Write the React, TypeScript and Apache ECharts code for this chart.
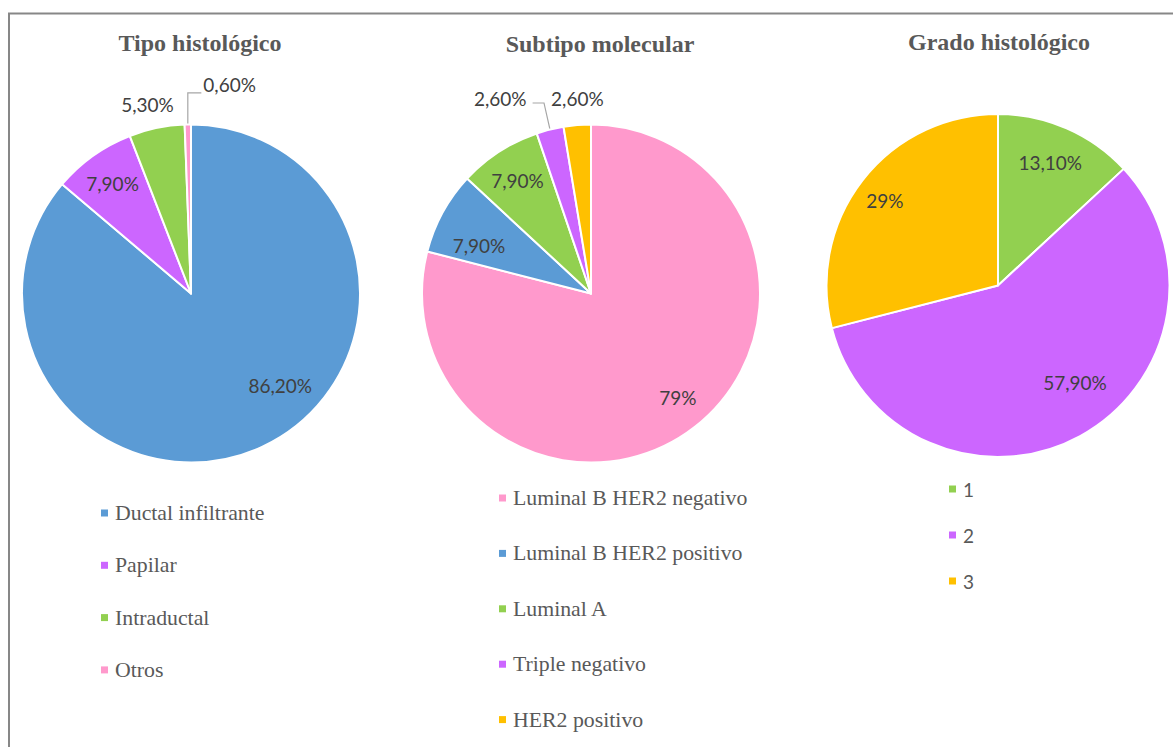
import React, { useEffect, useRef } from 'react';
import * as echarts from 'echarts';

// ---- data ----
const chartTitles = ['Tipo histológico', 'Subtipo molecular', 'Grado histológico'];

const tipoNames = ['Ductal infiltrante', 'Papilar', 'Intraductal', 'Otros'];
const tipoValues = [86.2, 7.9, 5.3, 0.6];

const subtipoNames = [
  'Luminal B HER2 negativo',
  'Luminal B HER2 positivo',
  'Luminal A',
  'Triple negativo',
  'HER2 positivo',
];
const subtipoValues = [79, 7.9, 7.9, 2.6, 2.6];

const gradoNames = ['1', '2', '3'];
const gradoValues = [13.1, 57.9, 29];

// ---- styles ----
const BLUE = '#5B9BD5';
const PURPLE = '#CC66FF';
const GREEN = '#92D050';
const PINK = '#FF99CC';
const YELLOW = '#FFC000';

const tipoColors = [BLUE, PURPLE, GREEN, PINK];
const subtipoColors = [PINK, BLUE, GREEN, PURPLE, YELLOW];
const gradoColors = [GREEN, PURPLE, YELLOW];

// label placement: angle (deg clockwise from 12 o'clock, null = slice middle), distance (fraction of radius)
const tipoLabelAngle = [136, null, 347, 10.5];
const tipoLabelDist = [0.76, 0.8, 1.146, 1.255];
const tipoLeader = [null, null, null, { dx: 0, dy: 8 }];

const subtipoLabelAngle = [140, 293, null, 335, 356];
const subtipoLabelDist = [0.8, 0.72, 0.8, 1.27, 1.154];
const subtipoLeader = [null, null, null, { dx: -6, dy: 4 }, null];

const gradoLabelAngle = [23, 141.4, 307];
const gradoLabelDist = [0.78, 0.72, 0.826];
const gradoLeader = [null, null, null];

const fmt = (v: number) =>
  Number.isInteger(v) ? `${v}%` : `${v.toFixed(2).replace('.', ',')}%`;

type Leader = { dx: number; dy: number } | null;

function makeLayout(
  center: number[],
  radius: number,
  values: number[],
  angles: (number | null)[],
  dists: number[],
  leaders: Leader[]
) {
  const total = values.reduce((a, b) => a + b, 0);
  const mids: number[] = [];
  let acc = 0;
  values.forEach((v) => {
    mids.push(((acc + v / 2) / total) * 360);
    acc += v;
  });
  return (p: any) => {
    const i = p.dataIndex;
    const a = ((angles[i] ?? mids[i]) * Math.PI) / 180;
    const d = dists[i] * radius;
    const x = center[0] + d * Math.sin(a);
    const y = center[1] - d * Math.cos(a);
    const res: any = { x, y, align: 'center', verticalAlign: 'middle' };
    const ld = leaders[i];
    if (ld) {
      const m = (mids[i] * Math.PI) / 180;
      const sx = center[0] + radius * Math.sin(m);
      const sy = center[1] - radius * Math.cos(m);
      const ly = y + ld.dy;
      const hw = p.labelRect.width / 2;
      const ex = x > sx ? x - hw - 2 : x + hw + 6;
      res.labelLinePoints = [
        [sx, sy],
        [sx + ld.dx, ly],
        [ex, ly],
      ];
    }
    return res;
  };
}

function makeSeries(
  names: string[],
  values: number[],
  colors: string[],
  center: number[],
  radius: number,
  angles: (number | null)[],
  dists: number[],
  leaders: Leader[]
) {
  return {
    type: 'pie',
    center,
    radius,
    startAngle: 90,
    clockwise: true,
    avoidLabelOverlap: false,
    silent: true,
    itemStyle: { borderColor: '#ffffff', borderWidth: 2 },
    label: {
      fontFamily: 'Lato',
      fontSize: 19,
      color: '#404040',
      formatter: (p: any) => fmt(p.value),
    },
    labelLine: {
      lineStyle: { color: '#A6A6A6', width: 1.2 },
    },
    labelLayout: makeLayout(center, radius, values, angles, dists, leaders),
    data: names.map((n, i) => ({
      name: n,
      value: values[i],
      itemStyle: { color: colors[i] },
      label: { position: dists[i] > 1 ? 'outside' : 'inside' },
      labelLine: { show: !!leaders[i] },
    })),
  };
}

function legendFor(names: string[], left: number, top: number, gap: number, serif: boolean) {
  return {
    data: names,
    orient: 'vertical',
    left,
    top,
    padding: 0,
    itemWidth: 7,
    itemHeight: 7,
    itemGap: gap,
    icon: 'rect',
    selectedMode: false,
    itemStyle: { borderWidth: 0 },
    textStyle: {
      fontFamily: serif ? 'Liberation Serif' : 'Lato',
      fontSize: serif ? 21.8 : 19,
      lineHeight: 22,
      color: '#595959',
      padding: [0, 0, 0, 2],
    },
  };
}

export default function App() {
  const ref = useRef<HTMLDivElement>(null);
  useEffect(() => {
    if (!ref.current) return;
    const chart = echarts.init(ref.current, undefined, { renderer: 'svg' });
    const titleStyle = {
      fontFamily: 'Liberation Serif',
      fontWeight: 'bold',
      fontSize: 24,
      lineHeight: 24,
      color: '#595959',
    };
    chart.setOption({
      animation: false,
      backgroundColor: '#ffffff',
      title: [
        { text: chartTitles[0], left: 200, top: 31, textAlign: 'center', padding: 0, textStyle: titleStyle },
        { text: chartTitles[1], left: 600, top: 32, textAlign: 'center', padding: 0, textStyle: titleStyle },
        { text: chartTitles[2], left: 999, top: 30, textAlign: 'center', padding: 0, textStyle: titleStyle },
      ],
      graphic: [
        {
          type: 'rect',
          shape: { x: 9, y: 13.5, width: 1250, height: 800 },
          style: { fill: 'none', stroke: '#878787', lineWidth: 2 },
          silent: true,
        },
      ],
      legend: [
        legendFor(tipoNames, 101, 502, 30.3, true),
        legendFor(subtipoNames, 499, 487, 33.4, true),
        legendFor(gradoNames, 949, 478, 24, false),
      ],
      series: [
        makeSeries(tipoNames, tipoValues, tipoColors, [191, 293.5], 169, tipoLabelAngle, tipoLabelDist, tipoLeader),
        makeSeries(subtipoNames, subtipoValues, subtipoColors, [591, 293.5], 169, subtipoLabelAngle, subtipoLabelDist, subtipoLeader),
        makeSeries(gradoNames, gradoValues, gradoColors, [998, 285.5], 171.5, gradoLabelAngle, gradoLabelDist, gradoLeader),
      ],
    });
    return () => chart.dispose();
  }, []);
  return (
    <div
      ref={ref}
      style={{ position: 'fixed', left: 0, top: 0, width: 1173, height: 747, background: '#fff' }}
    />
  );
}
